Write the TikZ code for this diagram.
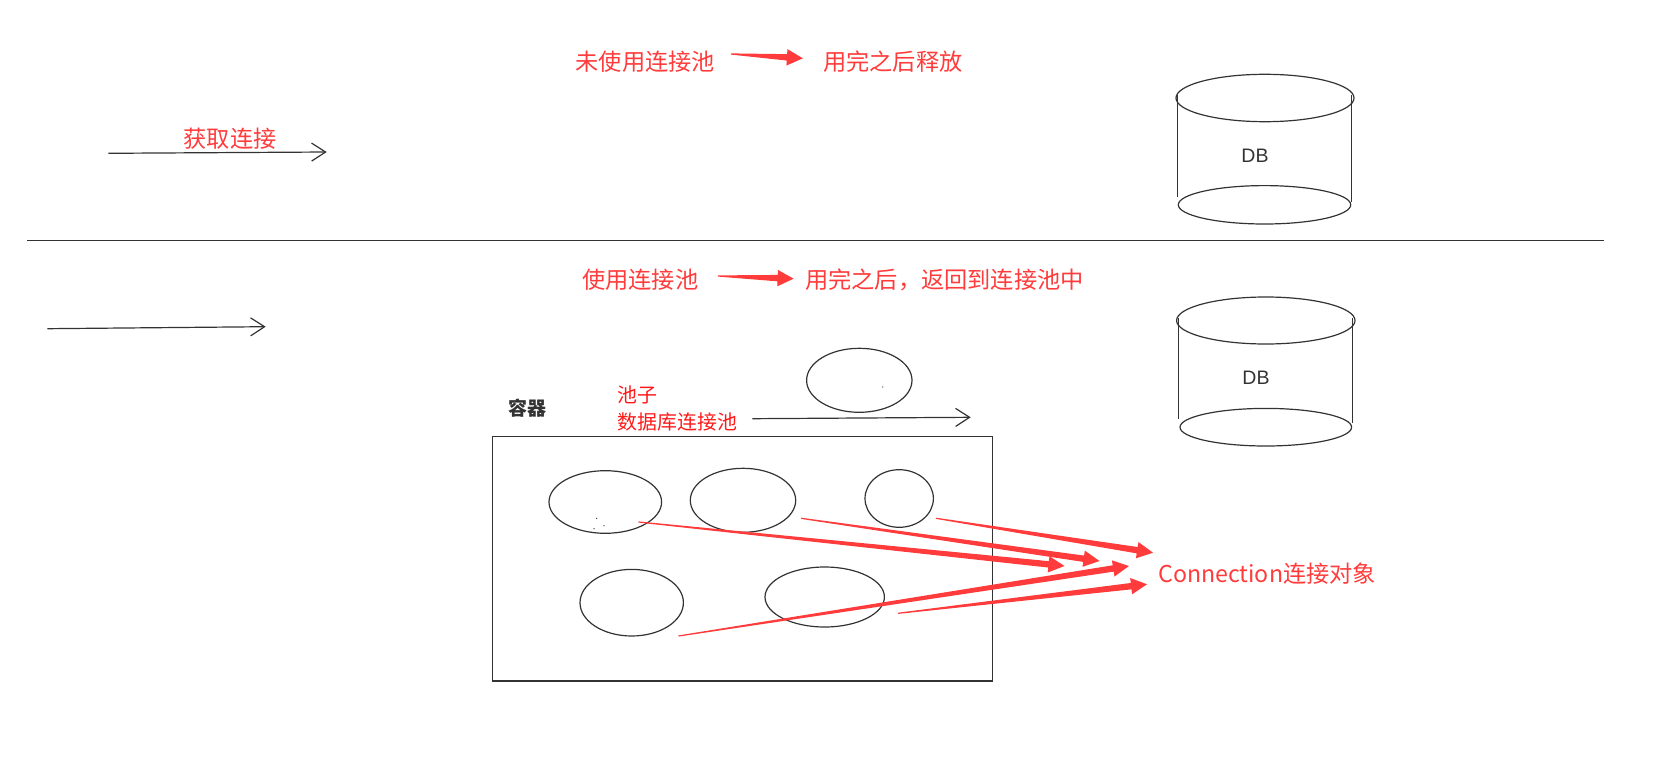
\documentclass[tikz,border=0pt]{standalone}
\usepackage{fontspec}
\setmainfont{Noto Sans CJK SC}
\newfontfamily\dbfont{Liberation Sans}
\usepackage{tikz}
\usetikzlibrary{calc,positioning,arrows.meta,shapes.geometric}
\definecolor{noteRed}{HTML}{FF3B3B}
\definecolor{poolRed}{HTML}{FF1A1A}
\definecolor{inkGrey}{HTML}{333333}
\tikzset{
 pen line/.style={draw=inkGrey,line width=1.2pt},
 pen arrow/.style={pen line,-{Straight Barb[length=14pt,width=18pt,line width=1.2pt]}},
 conn ellipse/.style={ellipse,pen line,inner sep=0pt,outer sep=0pt},
 pool box/.style={rectangle,draw=inkGrey,line width=1.2pt,inner sep=0pt},
 note label/.style={anchor=west,inner sep=0pt,text=noteRed,font=\fontsize{23.2pt}{26pt}\selectfont},
 pool label/.style={anchor=west,inner sep=0pt,text=poolRed,font=\fontsize{19.9pt}{23pt}\selectfont},
 db label/.style={inner sep=0pt,text=inkGrey,font=\dbfont\fontsize{19.5pt}{22pt}\selectfont},
 note wedge/.style={fill=noteRed,draw=none}
}
\newcommand{\wedgearrow}[2]{
 \coordinate (wb) at ($(#2)!16pt!(#1)$);
 \fill[note wedge] ($(#1)!.6pt!90:(#2)$)--($(wb)!3.2pt!90:(#2)$)--($(wb)!8.2pt!90:(#2)$)--(#2)
   --($(wb)!8.2pt!-90:(#2)$)--($(wb)!3.2pt!-90:(#2)$)--($(#1)!.6pt!-90:(#2)$)--cycle;
}
\begin{document}
\begin{tikzpicture}[x=1pt,y=-1pt]
 \useasboundingbox (0,0) rectangle (1662,757);

 \node[note label] (nopool) at (575.5,61.7) {未使用连接池};
 \node[note label] (release) at (823,61.7) {用完之后释放};
 \node[note label] (fetch) at (183.5,138.3) {获取连接};
 \node[note label] (usepool) at (582,280) {使用连接池};
 \node[note label] (giveback) at (805,280) {用完之后，返回到连接池中};
 \node[note label] (connobj) at (1158,574) {Connection连接对象};
 \node[pool label,text=inkGrey] (container) at (508.3,408.3) {\fontsize{19pt}{23pt}\selectfont\bfseries 容器};
 \node[pool label] (poolname) at (617.7,395) {池子};
 \node[pool label] (dbpool) at (617.7,421.7) {数据库连接池};

 \coordinate (a1s) at (108.3,153.3);
 \coordinate (a1e) at (326.7,152);
 \coordinate (a2s) at (47.3,328.7);
 \coordinate (a2e) at (265.7,326.7);
 \coordinate (a3s) at (752.3,418.7);
 \coordinate (a3e) at (970.7,417.3);
 \foreach \a in {1,2,3} \draw[pen arrow] (a\a s)--(a\a e);

 \coordinate (divl) at (27.3,240.7);
 \coordinate (divr) at (1604,240.7);
 \draw[pen line] (divl)--(divr);

 \node[pool box,minimum width=500pt,minimum height=244.7pt] (pool) at (742.7,558.6) {};
 \node[conn ellipse,minimum width=105.4pt,minimum height=64pt] (ctop) at (859.3,380.3) {};
 \node[conn ellipse,minimum width=112.6pt,minimum height=62.6pt] (c1) at (605.3,502) {};
 \node[conn ellipse,minimum width=105.4pt,minimum height=64pt] (c2) at (743,500.3) {};
 \node[conn ellipse,minimum width=68.4pt,minimum height=57.6pt] (c3) at (899.2,498.5) {};
 \node[conn ellipse,minimum width=103.4pt,minimum height=66.6pt] (c4) at (631.7,602.7) {};
 \node[conn ellipse,minimum width=119.4pt,minimum height=60pt] (c5) at (824.7,597) {};
 \foreach \x/\y in {596.7/518.3,604/525.7,594/528.7,882.7/387}
   \fill[inkGrey] (\x,\y) circle (.7);

 \node[conn ellipse,minimum width=178pt,minimum height=47.4pt] (db1t) at (1265,98) {};
 \node[conn ellipse,minimum width=172.4pt,minimum height=38.4pt] (db1b) at (1264.5,204.8) {};
 \draw[pen line] (1177.3,95)--(1177.3,196.7);
 \draw[pen line] (1351.7,95)--(1351.7,201.7);
 \node[db label] (db1) at (1255,155.7) {DB};

 \node[conn ellipse,minimum width=178.4pt,minimum height=47pt] (db2t) at (1265.8,320.5) {};
 \node[conn ellipse,minimum width=171.6pt,minimum height=37.6pt] (db2b) at (1265.8,427.2) {};
 \draw[pen line] (1178.7,318)--(1178.7,419);
 \draw[pen line] (1352.7,318)--(1352.7,423.3);
 \node[db label] (db2) at (1256,377.7) {DB};

 \coordinate (w1s) at (731,54);
 \coordinate (w1e) at (802.9,58.3);
 \coordinate (w2s) at (717.9,276);
 \coordinate (w2e) at (793.6,278.7);
 \coordinate (r1s) at (638.5,522);
 \coordinate (r1e) at (1064.5,566);
 \coordinate (r2s) at (801,518.3);
 \coordinate (r2e) at (1099.5,561);
 \coordinate (r3s) at (936,518.3);
 \coordinate (r3e) at (1153,552.7);
 \coordinate (r4s) at (678.5,636);
 \coordinate (r4e) at (1129,566);
 \coordinate (r5s) at (898,613.3);
 \coordinate (r5e) at (1147,584.3);
 \foreach \w in {w1,w2,r1,r2,r3,r4,r5} {\wedgearrow{\w s}{\w e}}
\end{tikzpicture}
\end{document}
